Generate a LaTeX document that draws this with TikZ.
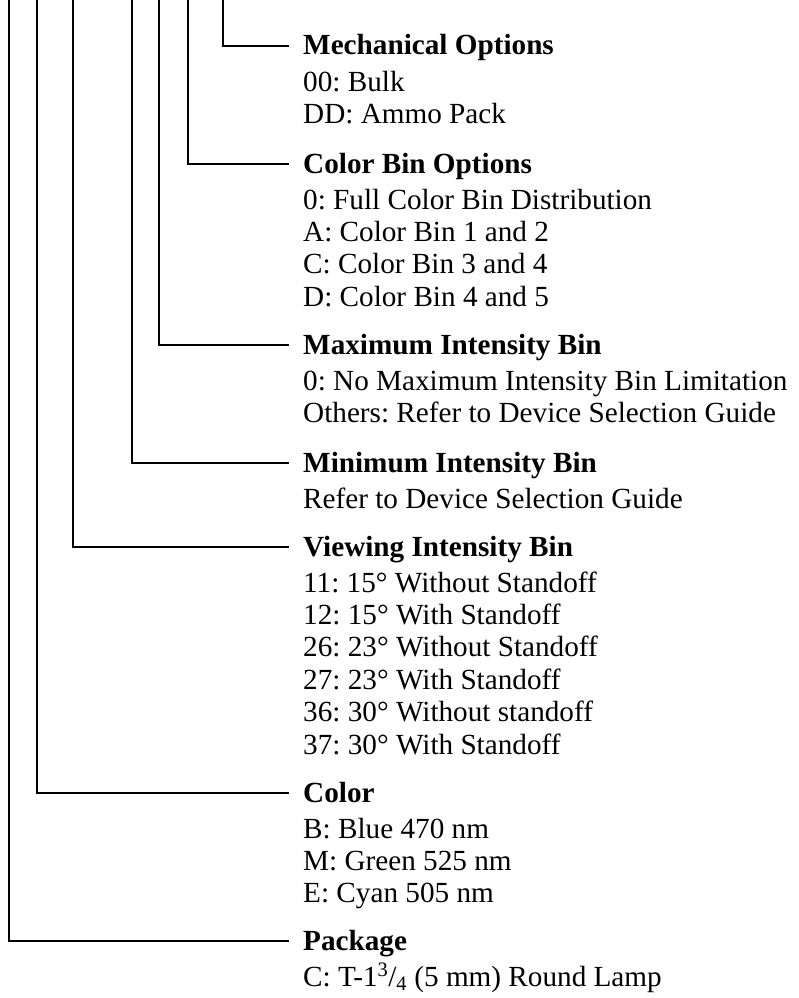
\documentclass[tikz,border=0pt]{standalone}
\usepackage{fontspec}
\setmainfont{Liberation Serif}
\frenchspacing
\begin{document}
\begin{tikzpicture}[x=1pt,y=-1pt,
  lead/.style={draw=black,line width=1.1pt,line cap=butt},
  head/.style={anchor=base west,inner sep=0pt,font=\fontsize{29.2}{32}\selectfont\bfseries},
  item/.style={anchor=base west,inner sep=0pt,font=\fontsize{29.2}{32}\selectfont}]
\useasboundingbox (0,0) rectangle (798,998);
% top ends and line ends
\coordinate (tPkg) at (9,0);   \coordinate (ePkg) at (289,941);
\coordinate (tCol) at (37,0);  \coordinate (eCol) at (289,793);
\coordinate (tView) at (73,0); \coordinate (eView) at (289,547);
\coordinate (tMin) at (132,0); \coordinate (eMin) at (289,463);
\coordinate (tMax) at (159,0); \coordinate (eMax) at (289,345);
\coordinate (tBin) at (188,0); \coordinate (eBin) at (289,164);
\coordinate (tMech) at (223,0); \coordinate (eMech) at (289,46);
\draw[lead] (tMech) |- (eMech);
\draw[lead] (tBin) |- (eBin);
\draw[lead] (tMax) |- (eMax);
\draw[lead] (tMin) |- (eMin);
\draw[lead] (tView) |- (eView);
\draw[lead] (tCol) |- (eCol);
\draw[lead] (tPkg) |- (ePkg);
% Mechanical
\node[head] (hMech) at (303,55) {Mechanical Options};
\node[item] (m1) at (303,91) {00: Bulk};
\node[item] (m2) at (303,123.4) {DD: Ammo Pack};
% Color bin
\node[head] (hBin) at (303,173) {Color Bin Options};
\node[item] (b1) at (303,209) {0: Full Color Bin Distribution};
\node[item] (b2) at (303,241.4) {A: Color Bin 1 and 2};
\node[item] (b3) at (303,273.8) {C: Color Bin 3 and 4};
\node[item] (b4) at (303,306.2) {D: Color Bin 4 and 5};
% Max
\node[head] (hMax) at (303,354) {Maximum Intensity Bin};
\node[item] (x1) at (303,390) {0: No Maximum Intensity Bin Limitation};
\node[item] (x2) at (303,422.4) {Others: Refer to Device Selection Guide};
% Min
\node[head] (hMin) at (303,472) {Minimum Intensity Bin};
\node[item] (n1) at (303,508) {Refer to Device Selection Guide};
% Viewing
\node[head] (hView) at (303,556) {Viewing Intensity Bin};
\node[item] (v1) at (303,592) {11: 15° Without Standoff};
\node[item] (v2) at (303,624.4) {12: 15° With Standoff};
\node[item] (v3) at (303,656.8) {26: 23° Without Standoff};
\node[item] (v4) at (303,689.2) {27: 23° With Standoff};
\node[item] (v5) at (303,721.6) {36: 30° Without standoff};
\node[item] (v6) at (303,754) {37: 30° With Standoff};
% Color
\node[head] (hCol) at (303,802) {Color};
\node[item] (c1) at (303,838) {B: Blue 470 nm};
\node[item] (c2) at (303,870.4) {M: Green 525 nm};
\node[item] (c3) at (303,902.8) {E: Cyan 505 nm};
% Package
\node[head] (hPkg) at (303,950) {Package};
\node[item] (p1) at (303,986) {C: T-1\textsuperscript{3}/\textsubscript{4} (5 mm) Round Lamp};
\end{tikzpicture}
\end{document}
